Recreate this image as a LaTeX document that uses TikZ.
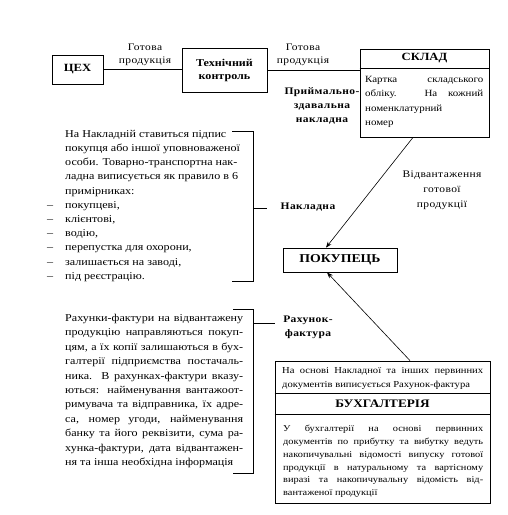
\documentclass[tikz,border=0pt]{standalone}
\usepackage{fontspec}
\setmainfont{Liberation Serif}[FakeStretch=1.15]
\newfontfamily\spacedfont{Liberation Serif}[FakeStretch=1.15, LetterSpace=4]
\usetikzlibrary{arrows.meta}
\begin{document}
\begin{tikzpicture}[x=1pt,y=-1pt,
  box/.style={draw, line width=0.8pt, inner sep=0pt},
  lbl/.style={align=center, inner sep=0pt, font=\spacedfont\fontsize{10}{12.5}\selectfont},
  blbl/.style={align=center, inner sep=0pt, font=\spacedfont\bfseries\fontsize{10}{14}\selectfont},
  txt/.style={inner sep=0pt, anchor=north west, font=\fontsize{10.5}{14.2}\selectfont},
  small/.style={inner sep=0pt, anchor=north west, font=\fontsize{9}{12.8}\selectfont},
  conn/.style={line width=0.6pt},
  arr/.style={line width=0.6pt, -{Stealth[length=6pt,width=4.5pt]}}
]
\fill[white] (0,0) rectangle (507,515);
\useasboundingbox (0,0) rectangle (507,515);

% top row
\node[box, minimum width=51pt, minimum height=29pt, font=\bfseries\fontsize{11}{13}\selectfont] (cex) at (77.5,69.5) {ЦЕХ};
\node[box, minimum width=85pt, minimum height=44pt, align=center, font=\bfseries\fontsize{10.5}{13}\selectfont] (tk) at (224.5,70) {Технічний\\контроль};
\node[box, minimum width=129pt, minimum height=88pt] (sklad) at (424.5,93) {};
\node[inner sep=0pt, font=\bfseries\fontsize{11}{12}\selectfont] (skladt) at (424.5,58.5) {СКЛАД};
\draw[conn] (sklad.north west |- 0,68) coordinate (sd1) -- (sklad.north east |- 0,68) coordinate (sd2);
\node[inner sep=0pt, anchor=north west, text width=118pt, align=justify, font=\fontsize{9.5}{14.5}\selectfont] (skladb) at (365,76)
 {Картка складського\linebreak обліку. На кожний\linebreak номенклатурний\\номер};

\draw[conn] (cex.east) -- (cex.east -| tk.west);
\draw[conn] (tk.east) -- (tk.east -| sklad.west);
\node[lbl] (g1) at (145,55) {Готова\\продукція};
\node[lbl] (g2) at (303,55) {Готова\\продукція};
\node[blbl] (prn) at (322,106) {Приймально-\\здавальна\\накладна};

% buyer
\node[box, minimum width=114pt, minimum height=24pt, font=\bfseries\fontsize{12}{13}\selectfont] (pok) at (340,260) {ПОКУПЕЦЬ};
\draw[arr] ([xshift=-11.5pt]sklad.south) -- ([xshift=-14pt]pok.north);
\node[lbl, font=\spacedfont\fontsize{10}{15}\selectfont] (vid) at (442,190) {Відвантаження\\готової\\продукції};

% Накладна block
\node[txt, align=left] (nt) at (65,130) {На Накладній ставиться підпис\\
покупця або іншої уповноваженої\\
особи. Товарно-транспортна нак-\\
ладна виписується як правило в 6\\
примірниках:\\
\llap{–\hspace{12pt}}покупцеві,\\
\llap{–\hspace{12pt}}клієнтові,\\
\llap{–\hspace{12pt}}водію,\\
\llap{–\hspace{12pt}}перепустка для охорони,\\
\llap{–\hspace{12pt}}залишається на заводі,\\
\llap{–\hspace{12pt}}під реєстрацію.};
\coordinate (n1) at (232,131);
\coordinate (n2) at (253,131);
\coordinate (n3) at (253,281);
\coordinate (n4) at (232,281);
\coordinate (nm) at (253,208);
\coordinate (nme) at (267,208);
\draw[conn] (n1) -- (n2) -- (n3) -- (n4);
\draw[conn] (nm) -- (nme);
\node[blbl] (nakl) at (308,207) {Накладна};

% Рахунки block
\node[txt, text width=178pt, align=justify, font=\fontsize{10.5}{14.4}\selectfont] (rt) at (65,314)
{Рахунки-фактури на відвантажену\linebreak
продукцію направляються покуп-\linebreak
цям, а їх копії залишаються в бух-\linebreak
галтерії підприємства постачаль-\linebreak
ника. В рахунках-фактури вказу-\linebreak
ються: найменування вантажоот-\linebreak
римувача та відправника, їх адре-\linebreak
са, номер угоди, найменування\linebreak
банку та його реквізити, сума ра-\linebreak
хунка-фактури, дата відвантажен-\linebreak
ня та інша необхідна інформація};
\coordinate (r1) at (233,309);
\coordinate (r2) at (253,309);
\coordinate (r3) at (253,473);
\coordinate (r4) at (233,473);
\coordinate (rm) at (253,323);
\coordinate (rme) at (275,323);
\draw[conn] (r1) -- (r2) -- (r3) -- (r4);
\draw[conn] (rm) -- (rme);
\node[blbl] (rf) at (308,327) {Рахунок-\\фактура};

% Бухгалтерія
\node[box, minimum width=215pt, minimum height=142pt] (buh) at (382.5,432) {};
\draw[conn] (buh.west |- 0,393) -- (buh.east |- 0,393);
\draw[conn] (buh.west |- 0,414) -- (buh.east |- 0,414);
\node[small, text width=201pt, align=justify, font=\fontsize{9.2}{14}\selectfont] (buht) at (282,367)
{На основі Накладної та інших первинних\linebreak документів виписується Рахунок-фактура};
\node[inner sep=0pt, font=\bfseries\fontsize{11.5}{13}\selectfont] (buhn) at (382.5,404) {БУХГАЛТЕРІЯ};
\node[small, text width=200pt, align=justify] (buhb) at (283,425)
{У бухгалтерії на основі первинних\linebreak
документів по прибутку та вибутку ведуть\linebreak
накопичувальні відомості випуску готової\linebreak
продукції в натуральному та вартісному\linebreak
виразі та накопичувальну відомість від-\linebreak
вантаженої продукції};
\draw[arr] ([xshift=27.5pt]buh.north) -- ([xshift=-13pt]pok.south);
\end{tikzpicture}
\end{document}
